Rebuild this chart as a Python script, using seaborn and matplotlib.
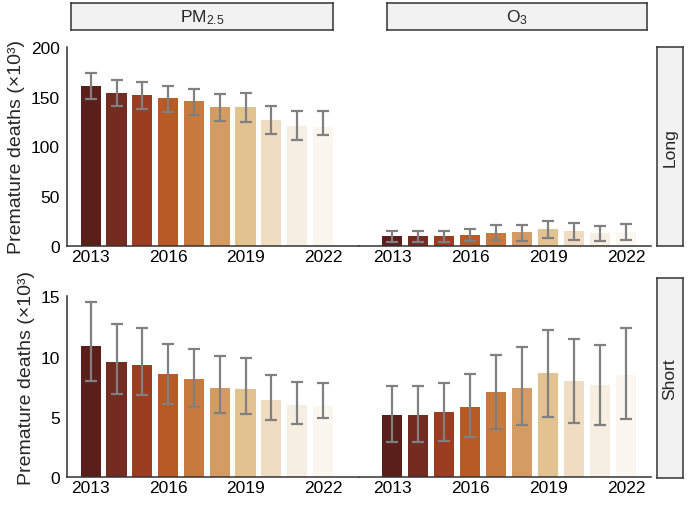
import numpy as np
import pandas as pd
import matplotlib
matplotlib.use('Agg')
import matplotlib.pyplot as plt
import seaborn as sns

# Data (x10^3 premature deaths)
years = ['2013', '2014', '2015', '2016', '2017', '2018', '2019', '2020', '2021', '2022']
tick_years = ['2013', '2016', '2019', '2022']

pm_long = [161, 153.5, 151.4, 148.4, 146, 139.7, 139.7, 126.6, 121, 120]
pm_long_lo = [148, 140.7, 137.4, 135, 132, 126, 124.3, 112.6, 106.5, 111.3]
pm_long_hi = [174, 166.5, 165, 160.8, 157.8, 153, 154, 141, 135.4, 136]

o3_long = [9.7, 9.8, 10, 11.4, 13, 14, 17, 15, 12.7, 14.4]
o3_long_lo = [3.7, 3.7, 4, 4.7, 6, 5.4, 7.7, 5.7, 5.4, 6.3]
o3_long_hi = [15.4, 15.4, 15.5, 17, 20.8, 21.4, 25.5, 22.8, 19.8, 22.4]

pm_short = [10.88, 9.55, 9.3, 8.55, 8.14, 7.42, 7.33, 6.42, 5.98, 5.92]
pm_short_lo = [7.97, 6.92, 6.81, 6.06, 5.78, 5.34, 5.23, 4.73, 4.37, 4.87]
pm_short_hi = [14.5, 12.68, 12.37, 11.07, 10.66, 10.02, 9.88, 8.5, 7.92, 7.78]

o3_short = [5.12, 5.12, 5.37, 5.81, 7.03, 7.42, 8.66, 7.94, 7.67, 8.44]
o3_short_lo = [2.93, 2.93, 3.02, 3.29, 4.01, 4.29, 4.95, 4.51, 4.29, 4.79]
o3_short_hi = [7.53, 7.53, 7.78, 8.55, 10.16, 10.77, 12.2, 11.43, 10.93, 12.37]

bar_colors = ['#5a1f1a', '#742b20', '#9c3c21', '#b75a25', '#c87a3e',
              '#d49c62', '#e3c291', '#efdcc1', '#f7eee2', '#fbf6f0']
palette = dict(zip(years, bar_colors))

sns.set_style('white')
plt.rcParams['font.family'] = ['Liberation Sans', 'DejaVu Sans']
plt.rcParams['mathtext.fontset'] = 'custom'
plt.rcParams['mathtext.rm'] = 'Liberation Sans'
plt.rcParams['mathtext.it'] = 'Liberation Sans:italic'

W, H = 692, 506
fig = plt.figure(figsize=(W / 100, H / 100), dpi=100)


def px_axes(x0, y0, x1, y1):
    # pixel box (top-left origin) -> figure axes
    return fig.add_axes([x0 / W, (H - y1) / H, (x1 - x0) / W, (y1 - y0) / H])


panels = [
    # (values, lo, hi, box, ylim, xlim, left)
    (pm_long, pm_long_lo, pm_long_hi, (67, 48, 359, 247), (0, 200), (-0.92, 10.4), True),
    (o3_long, o3_long_lo, o3_long_hi, (359, 48, 651, 247), (0, 200), (-1.28, 9.95), False),
    (pm_short, pm_short_lo, pm_short_hi, (67, 279, 359, 478), (0, 16.53), (-0.92, 10.4), True),
    (o3_short, o3_short_lo, o3_short_hi, (359, 279, 651, 478), (0, 16.53), (-1.28, 9.95), False),
]

spine_col = '#333333'
for vals, lo, hi, box, ylim, xlim, left in panels:
    ax = px_axes(*box)
    df = pd.DataFrame({'year': years, 'value': vals})
    sns.barplot(data=df, x='year', y='value', hue='year', palette=palette,
                order=years, hue_order=years, width=0.78, linewidth=0,
                saturation=1, errorbar=None, legend=False, ax=ax)
    v = np.array(vals)
    yerr = [v - np.array(lo), np.array(hi) - v]
    ax.errorbar(np.arange(len(years)), v, yerr=yerr, fmt='none',
                ecolor='#808080', elinewidth=1.6, capsize=4, capthick=1.6)
    ax.set_xlim(*xlim)
    ax.set_ylim(*ylim)
    ax.set_xticks([years.index(t) for t in tick_years])
    ax.set_xticklabels(tick_years)
    ax.set_xlabel('')
    ax.set_ylabel('')
    ax.tick_params(axis='x', length=0, labelsize=12.5, pad=2, colors='black')
    ax.tick_params(axis='y', length=3, width=1, labelsize=12.5, pad=2,
                   colors=spine_col, labelcolor='black')
    for s in ['top', 'right']:
        ax.spines[s].set_visible(False)
    ax.spines['bottom'].set_color(spine_col)
    ax.spines['bottom'].set_linewidth(1.1)
    if left:
        ax.spines['left'].set_color(spine_col)
        ax.spines['left'].set_linewidth(1.1)
        if ylim[1] < 20:
            ax.set_yticks([0, 5, 10, 15])
            ax.spines['left'].set_bounds(0, 15)
        else:
            ax.set_yticks([0, 50, 100, 150, 200])
        ax.set_ylabel('Premature deaths (×10³)', fontsize=14, labelpad=4)
    else:
        ax.spines['left'].set_visible(False)
        ax.set_yticks([])

# strips
strips = [
    ((71, 4, 333, 31), 'PM$_{2.5}$', 0),
    ((387, 4, 647, 31), 'O$_3$', 0),
    ((657, 48, 683, 247), 'Long', 90),
    ((657, 279, 683, 479), 'Short', 90),
]
for box, label, rot in strips:
    sax = px_axes(*box)
    sax.set_facecolor('#f2f2f2')
    sax.set_xticks([])
    sax.set_yticks([])
    for s in sax.spines.values():
        s.set_color(spine_col)
        s.set_linewidth(1.1)
        s.set_visible(True)
    sax.text(0.5, 0.5, label, ha='center', va='center', rotation=rot,
             fontsize=12.5, transform=sax.transAxes)

plt.savefig('out.png', dpi=100)
